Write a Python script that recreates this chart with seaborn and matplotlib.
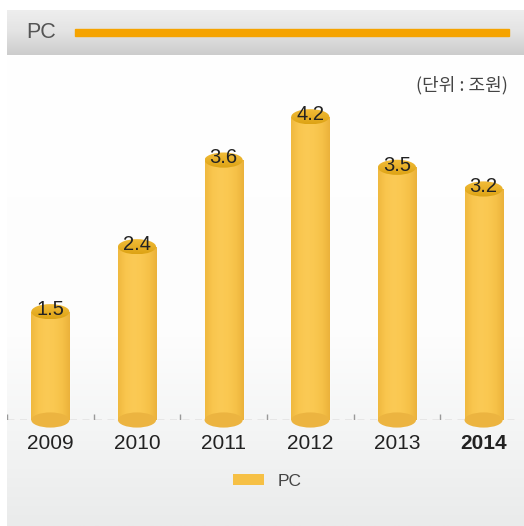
import matplotlib
matplotlib.use("Agg")
import matplotlib.pyplot as plt
import numpy as np
import seaborn as sns
from matplotlib.colors import LinearSegmentedColormap
from matplotlib.patches import Ellipse, Patch, Rectangle

years = ["2009", "2010", "2011", "2012", "2013", "2014"]
values = [1.5, 2.4, 3.6, 4.2, 3.5, 3.2]
series_name = "PC"
unit_label = "(단위 : 조원)"

W, H = 524, 526
BAR_W = 0.44
ELL_H = 0.21

sns.set_theme(style="white")
plt.rcParams["font.family"] = ["Liberation Sans", "DejaVu Sans"]

fig = plt.figure(figsize=(W / 100, H / 100), dpi=100)
fig.patch.set_facecolor("white")

# background in pixel coords
bg = fig.add_axes([0, 0, 1, 1])
bg.set_xlim(0, W)
bg.set_ylim(H, 0)
bg.axis("off")
panel = LinearSegmentedColormap.from_list(
    "panel", [(0, "#ffffff"), (0.6, "#fdfdfd"), (0.8, "#f4f5f5"), (1, "#eaebeb")])
bg.imshow(np.linspace(0, 1, 256).reshape(-1, 1), cmap=panel, aspect="auto",
          extent=[7, W, H, 55], zorder=0)
head = LinearSegmentedColormap.from_list("head", ["#eeeeee", "#e3e3e3", "#cccccc"])
bg.imshow(np.linspace(0, 1, 64).reshape(-1, 1), cmap=head, aspect="auto",
          extent=[7, W, 55, 10], zorder=1)
bg.add_patch(Rectangle((75, 29), 434, 7, color="#f5a300", zorder=2))
bg.text(26, 33, series_name, fontsize=15.5, color="#555555", va="center", ha="left")
bg.text(508, 85, unit_label, fontsize=13, color="#444444", va="center", ha="right",
        family=["Noto Sans CJK KR", "DejaVu Sans"])

# chart
ax = fig.add_axes([7 / W, (H - 420) / H, 513 / W, 361 / H])
ax.patch.set_alpha(0)
sns.barplot(x=years, y=values, color="#f8c44b", width=BAR_W, saturation=1, ax=ax, zorder=3)
ax.set_xlim(-0.5, 5.42)
ax.set_ylim(0, 5.0)
sns.despine(ax=ax, left=True, bottom=True)
ax.set_yticks([])
ax.set_xlabel("")
ax.set_ylabel("")

body = LinearSegmentedColormap.from_list(
    "body", ["#f0b93f", "#f9c64e", "#fbca55", "#fac851", "#f6c148", "#ebb23b"])
top_cm = LinearSegmentedColormap.from_list("top", ["#f2bd3a", "#e8b028", "#dda314"])
grad = np.linspace(0, 1, 128).reshape(1, -1)
vgrad = np.linspace(0, 1, 64).reshape(-1, 1)
for i, (patch, v) in enumerate(zip(ax.patches, values)):
    x0 = patch.get_x()
    im = ax.imshow(grad, cmap=body, aspect="auto", extent=[x0, x0 + BAR_W, 0, v], zorder=4)
    im.set_clip_path(patch)
    bottom = Ellipse((i, 0), BAR_W, ELL_H, facecolor="#ecb440", edgecolor="none",
                     zorder=5, clip_on=False)
    ax.add_patch(bottom)
    top = Ellipse((i, v), BAR_W, ELL_H, facecolor="none", edgecolor="none", zorder=6)
    ax.add_patch(top)
    tim = ax.imshow(vgrad, cmap=top_cm, aspect="auto",
                    extent=[x0, x0 + BAR_W, v - ELL_H / 2, v + ELL_H / 2], zorder=6)
    tim.set_clip_path(top)
    ax.text(i, v + 0.03, f"{v:.1f}", ha="center", va="center", fontsize=14.5,
            color="#222222", zorder=7)

ax.axhline(0, color="#aaaaaa", lw=1, ls=(0, (5, 4)), zorder=1)
ax.vlines(np.arange(len(years)) - 0.5, 0, 0.08, color="#999999", lw=1, zorder=1)

ax.tick_params(axis="x", length=0, pad=10, labelsize=15, colors="#222222")
ax.get_xticklabels()[-1].set_fontweight("bold")

fig.legend(handles=[Patch(facecolor="#f6c045", edgecolor="none", label=series_name)],
           loc="center", bbox_to_anchor=(0.51, (H - 481) / H), frameon=False,
           fontsize=12.5, handlelength=1.8, handleheight=0.66, handletextpad=0.8,
           labelcolor="#444444")

fig.savefig("out.png", dpi=100)
